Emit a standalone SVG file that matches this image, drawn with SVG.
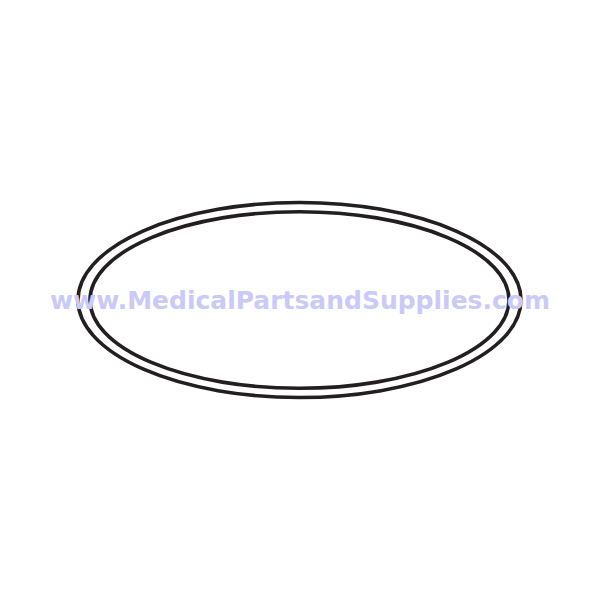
<svg xmlns="http://www.w3.org/2000/svg" width="600" height="599" viewBox="0 0 600 599">
<style>
.ring{fill:none;stroke:#231f20;stroke-width:3.6}
.wm{font-family:"DejaVu Sans","Liberation Sans",sans-serif;font-weight:bold;font-size:25.5px;fill:#cbc9f7}
</style>
<rect width="600" height="599" fill="#ffffff"/>
<g id="outer-ring"><ellipse class="ring" cx="299.5" cy="300" rx="221.5" ry="97.5"/></g>
<g id="inner-ring"><ellipse class="ring" cx="299.5" cy="300" rx="209.5" ry="88.3"/></g>
<text class="wm" x="300" y="308.5" text-anchor="middle" textLength="500" lengthAdjust="spacingAndGlyphs">www.MedicalPartsandSupplies.com</text>
</svg>
